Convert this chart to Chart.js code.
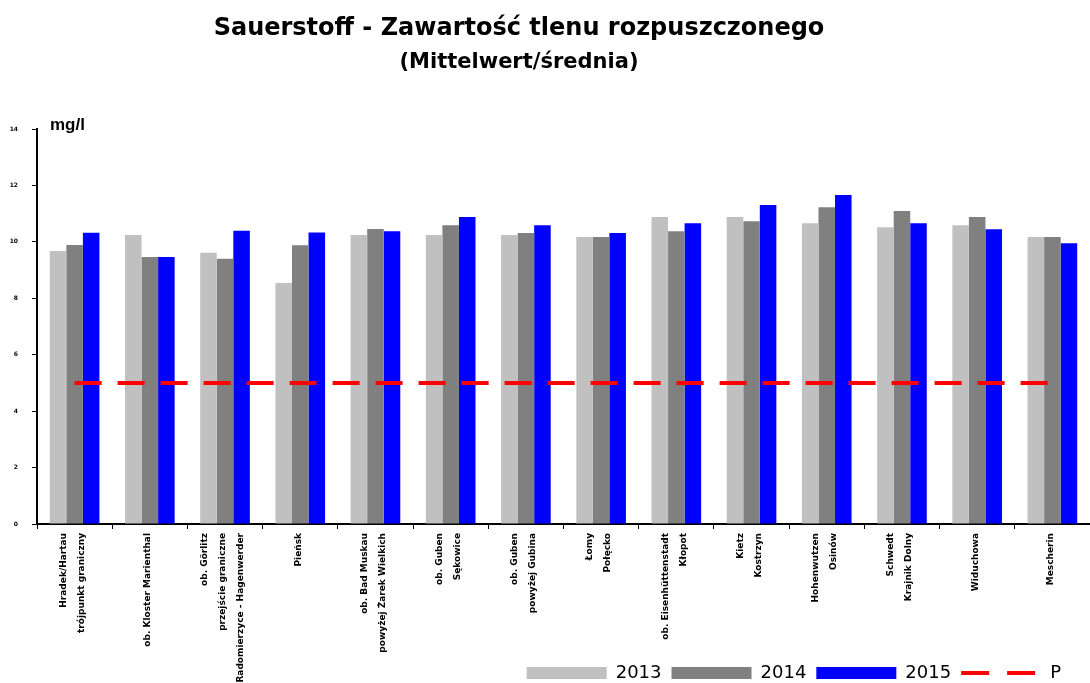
<!DOCTYPE html>
<html>
<head>
<meta charset="utf-8">
<script src="https://cdn.jsdelivr.net/npm/chart.js@4.4.1/dist/chart.umd.min.js"></script>
<style>
  html, body { margin: 0; padding: 0; background: #fff; }
  #wrap { position: relative; width: 1090px; height: 683px; }
</style>
</head>
<body>
<div id="wrap"><canvas id="c" width="1090" height="683"></canvas></div>
<script>
const categories = [
  ["Hradek/Hartau", "trójpunkt graniczny"],
  ["ob. Kloster Marienthal"],
  ["ob. Görlitz", "przejście graniczne", "Radomierzyce - Hagenwerder"],
  ["Pieńsk"],
  ["ob. Bad Muskau", "powyżej Żarek Wielkich"],
  ["ob. Guben", "Sękowice"],
  ["ob. Guben", "powyżej Gubina"],
  ["Łomy", "Połęcko"],
  ["ob. Eisenhüttenstadt", "Kłopot"],
  ["Kietz", "Kostrzyn"],
  ["Hohenwutzen", "Osinów"],
  ["Schwedt", "Krajnik Dolny"],
  ["Widuchowa"],
  ["Mescherin"]
];
const values2013 = [9.68, 10.24, 9.61, 8.54, 10.24, 10.24, 10.24, 10.17, 10.88, 10.88, 10.66, 10.52, 10.59, 10.17];
const values2014 = [9.89, 9.46, 9.40, 9.88, 10.46, 10.59, 10.31, 10.17, 10.38, 10.73, 11.23, 11.09, 10.88, 10.17];
const values2015 = [10.32, 9.46, 10.39, 10.33, 10.38, 10.88, 10.59, 10.31, 10.66, 11.31, 11.66, 10.66, 10.45, 9.95];
const valuesP = [5, 5, 5, 5, 5, 5, 5, 5, 5, 5, 5, 5, 5, 5];
const yTicks = [0, 2, 4, 6, 8, 10, 12, 14];

const TITLE = 'Sauerstoff - Zawartość tlenu rozpuszczonego';
const SUBTITLE = '(Mittelwert/średnia)';
const X_LINE_HEIGHT = 18;

const tweaks = {
  id: 'tweaks',
  afterLayout(chart) {
    // centre the title block like the original (slightly left of canvas centre)
    chart.boxes.forEach(b => {
      if (b.options && (b.options.text === TITLE || b.options.text === SUBTITLE)) {
        b.left = 0;
        b.right = 1038;
      }
    });
    // let rotated x labels run below into the legend band (as in the original)
    chart.scales.x.bottom = chart.height;
    // nudge legend down / left
    const lg = chart.legend;
    lg.top += 9; lg.bottom += 9;
    lg.right -= 19;
  },
  beforeDraw(chart) {
    // centre multi-line rotated labels on their category
    const items = chart.scales.x.getLabelItems();
    items.forEach(it => {
      const n = Array.isArray(it.label) ? it.label.length : 1;
      it.textOffset = X_LINE_HEIGHT / 2 - (n - 1) * X_LINE_HEIGHT / 2 - 2;
    });
  },
  afterDraw(chart) {
    const ctx = chart.ctx;
    ctx.save();
    ctx.font = 'bold 17px "Liberation Sans", Arial, sans-serif';
    ctx.fillStyle = '#000';
    ctx.textBaseline = 'alphabetic';
    ctx.fillText('mg/l', chart.chartArea.left + 13, chart.chartArea.top + 1);
    ctx.restore();
  }
};

new Chart(document.getElementById('c'), {
  type: 'bar',
  data: {
    labels: categories,
    datasets: [
      { label: '2013', data: values2013, backgroundColor: '#C0C0C0', borderWidth: 0, order: 1 },
      { label: '2014', data: values2014, backgroundColor: '#808080', borderWidth: 0, order: 1 },
      { label: '2015', data: values2015, backgroundColor: '#0000FF', borderWidth: 0, order: 1 },
      { label: 'P', type: 'line', data: valuesP, borderColor: '#FF0000', backgroundColor: '#FF0000',
        borderWidth: 4, borderDash: [27, 16], pointRadius: 0, fill: false, order: 0 }
    ]
  },
  options: {
    responsive: false,
    animation: false,
    layout: { padding: 0 },
    datasets: { bar: { categoryPercentage: 0.66, barPercentage: 1.0 } },
    plugins: {
      title: {
        display: true,
        text: TITLE,
        color: '#000',
        font: { family: '"DejaVu Sans", sans-serif', size: 24, weight: 'bold' },
        padding: { top: 14, bottom: 4 }
      },
      subtitle: {
        display: true,
        text: SUBTITLE,
        color: '#000',
        font: { family: '"DejaVu Sans", sans-serif', size: 21, weight: 'bold' },
        padding: { top: 3, bottom: 54 }
      },
      legend: {
        position: 'bottom',
        align: 'end',
        labels: {
          color: '#000',
          font: { family: '"DejaVu Sans", sans-serif', size: 18 },
          usePointStyle: true,
          pointStyleWidth: 80,
          boxHeight: 12,
          padding: 10,
          generateLabels(chart) {
            return chart.data.datasets.map((ds, i) => {
              const isLine = ds.type === 'line';
              return {
                text: ds.label,
                fillStyle: ds.backgroundColor,
                strokeStyle: ds.borderColor || ds.backgroundColor,
                lineWidth: isLine ? 4 : 0,
                lineDash: isLine ? [28, 18] : [],
                pointStyle: isLine ? 'line' : 'rect',
                fontColor: '#000',
                hidden: false,
                datasetIndex: i
              };
            });
          }
        }
      },
      tooltip: { enabled: false }
    },
    scales: {
      x: {
        grid: { display: true, offset: true, drawOnChartArea: false, drawTicks: true, tickLength: 5, color: '#000', lineWidth: 1 },
        border: { display: true, color: '#000', width: 2 },
        ticks: {
          autoSkip: false,
          minRotation: 90,
          maxRotation: 90,
          padding: 4,
          color: '#000',
          font: { family: '"DejaVu Sans", sans-serif', size: 9, weight: 'bold', lineHeight: X_LINE_HEIGHT / 9 }
        },
        afterFit(scale) { scale.height = scale.chart.height - 524 - scale.chart.legend.height; }
      },
      y: {
        min: 0,
        max: 14,
        afterBuildTicks(scale) { scale.ticks = yTicks.map(v => ({ value: v })); },
        grid: { display: true, drawOnChartArea: false, drawTicks: true, tickLength: 5, color: '#000', lineWidth: 1 },
        border: { display: true, color: '#000', width: 2 },
        ticks: {
          padding: 14,
          color: '#000',
          font: { family: '"DejaVu Sans", sans-serif', size: 6, weight: 'bold' }
        },
        afterFit(scale) { scale.width = 37; }
      }
    }
  },
  plugins: [tweaks]
});
</script>
</body>
</html>
